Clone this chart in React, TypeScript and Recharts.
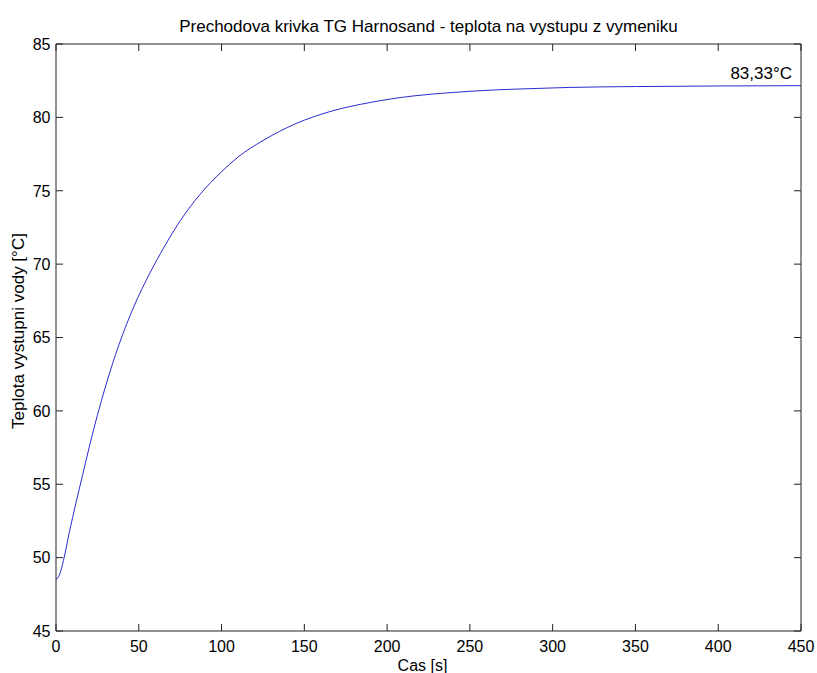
import React from 'react';
import { LineChart, Line, XAxis, YAxis, ReferenceDot } from 'recharts';

// Time [s]
const timeValues = [0, 2, 4.5, 8, 12, 16, 20, 25, 30, 38, 47, 57, 65, 75, 87, 100, 110, 125, 145, 165, 190, 215, 240, 265, 290, 310, 350, 400, 450];
// Outlet water temperature [°C]
const tempValues = [48.5, 48.8, 49.8, 51.7, 53.7, 55.6, 57.5, 59.7, 61.7, 64.5, 67.1, 69.45, 71.1, 72.95, 74.75, 76.3, 77.3, 78.42, 79.58, 80.38, 81.02, 81.45, 81.7, 81.87, 81.97, 82.04, 82.1, 82.14, 82.16];

const xTicks = [0, 50, 100, 150, 200, 250, 300, 350, 400, 450];
const yTicks = [45, 50, 55, 60, 65, 70, 75, 80, 85];

const titleText = 'Prechodova krivka TG Harnosand - teplota na vystupu z vymeniku';
const xLabelText = 'Cas [s]';
const yLabelText = 'Teplota vystupni vody [°C]';
const annotationText = '83,33°C';
const annotationX = 450;
const annotationY = 83.33;

const data = timeValues.map((t, i) => ({ t, v: tempValues[i] }));

const FONT = '"Liberation Sans", Arial, Helvetica, sans-serif';
const AXIS = '#222';
const TICK_LEN = 7;

const TitleLabel = (props: any) => {
  const vb = props.viewBox || {};
  const cx = vb.x + vb.width / 2;
  return (
    <text x={cx} y={31.5} textAnchor="middle" fontSize={17} fontFamily={FONT} fill="#000">
      {titleText}
    </text>
  );
};

const XLabel = (props: any) => {
  const vb = props.viewBox || {};
  const cx = vb.x + vb.width / 2 - 6;
  return (
    <text x={cx} y={671} textAnchor="middle" fontSize={16} fontFamily={FONT} fill="#000">
      {xLabelText}
    </text>
  );
};

const YLabel = (props: any) => {
  const vb = props.viewBox || {};
  const x = 24;
  const y = vb.y + vb.height / 2 - 6.5;
  return (
    <text x={x} y={y} transform={`rotate(-90 ${x} ${y})`} textAnchor="middle" fontSize={17} fontFamily={FONT} fill="#000">
      {yLabelText}
    </text>
  );
};

const AnnotationLabel = (props: any) => {
  const vb = props.viewBox || {};
  const x = vb.x + (vb.width || 0) / 2 - 9;
  const y = vb.y + (vb.height || 0) / 2 + 10;
  return (
    <text x={x} y={y} textAnchor="end" fontSize={17} fontFamily={FONT} fill="#000">
      {annotationText}
    </text>
  );
};

const BottomTick = (props: any) => {
  const { x, y, payload } = props;
  return (
    <g>
      <line x1={x} y1={y} x2={x} y2={y - TICK_LEN} stroke={AXIS} />
      <text x={x} y={y + 21} textAnchor="middle" fontSize={16} fontFamily={FONT} fill="#000">
        {payload.value}
      </text>
    </g>
  );
};

const LeftTick = (props: any) => {
  const { x, y, payload } = props;
  return (
    <g>
      <line x1={x} y1={y} x2={x + TICK_LEN} y2={y} stroke={AXIS} />
      <text x={x - 5.5} y={y + 5.8} textAnchor="end" fontSize={16} fontFamily={FONT} fill="#000">
        {payload.value}
      </text>
    </g>
  );
};

const TopTick = (props: any) => {
  const { x, y } = props;
  return <line x1={x} y1={y} x2={x} y2={y + TICK_LEN} stroke={AXIS} />;
};

const RightTick = (props: any) => {
  const { x, y } = props;
  return <line x1={x} y1={y} x2={x - TICK_LEN} y2={y} stroke={AXIS} />;
};

export default function App() {
  return (
    <div style={{ position: 'absolute', left: 0, top: 0, width: 817, height: 673, background: '#fff' }}>
      <LineChart
        width={817}
        height={673}
        data={data}
        margin={{ top: 43, right: 15, bottom: 0, left: 0 }}
      >
        <XAxis
          xAxisId="bottom"
          dataKey="t"
          type="number"
          domain={[0, 450]}
          ticks={xTicks}
          allowDataOverflow
          orientation="bottom"
          height={42}
          tickSize={0}
          tickMargin={0}
          tickLine={false}
          stroke={AXIS}
          tick={BottomTick}
          interval={0}
          label={{ content: XLabel }}
        />
        <XAxis
          xAxisId="top"
          dataKey="t"
          type="number"
          domain={[0, 450]}
          ticks={xTicks}
          allowDataOverflow
          orientation="top"
          height={1}
          tickSize={0}
          tickMargin={0}
          tickLine={false}
          stroke={AXIS}
          tick={TopTick}
          interval={0}
          label={{ content: TitleLabel }}
        />
        <YAxis
          yAxisId="left"
          type="number"
          domain={[45, 85]}
          ticks={yTicks}
          allowDataOverflow
          orientation="left"
          width={56}
          tickSize={0}
          tickMargin={0}
          tickLine={false}
          stroke={AXIS}
          tick={LeftTick}
          interval={0}
          label={{ content: YLabel }}
        />
        <YAxis
          yAxisId="right"
          type="number"
          domain={[45, 85]}
          ticks={yTicks}
          allowDataOverflow
          orientation="right"
          width={1}
          tickSize={0}
          tickMargin={0}
          tickLine={false}
          stroke={AXIS}
          tick={RightTick}
          interval={0}
        />
        <Line
          xAxisId="bottom"
          yAxisId="left"
          type="monotone"
          dataKey="v"
          stroke="#2a2ad0"
          strokeWidth={1}
          dot={false}
          isAnimationActive={false}
        />
        <ReferenceDot
          xAxisId="bottom"
          yAxisId="left"
          x={annotationX}
          y={annotationY}
          r={0}
          fill="none"
          stroke="none"
          ifOverflow="visible"
          label={{ content: AnnotationLabel }}
        />
      </LineChart>
    </div>
  );
}
